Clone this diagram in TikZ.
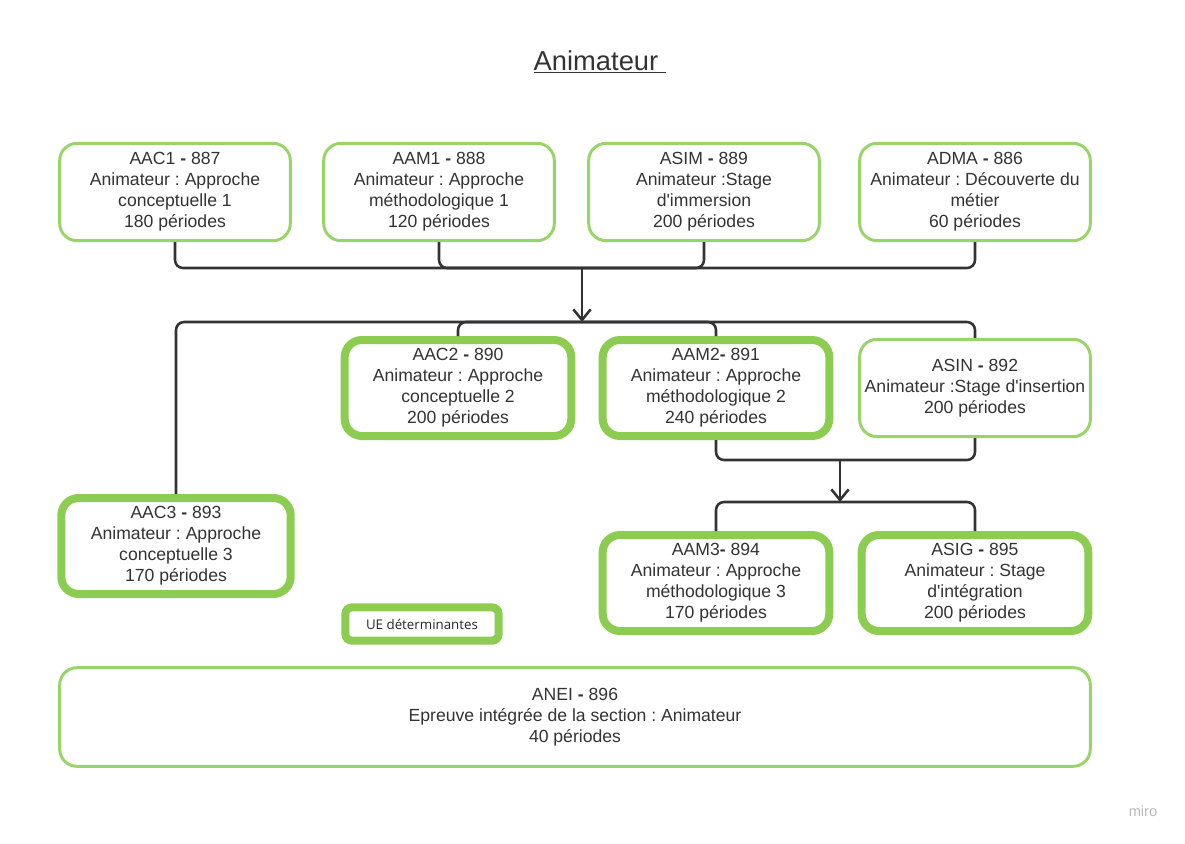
\documentclass[tikz,border=0pt]{standalone}
\usepackage{fontspec}
\setmainfont{Liberation Sans}[Ligatures=TeXOff]
\newfontfamily\uefont{Open Sans}
\usetikzlibrary{arrows.meta}
\definecolor{ueGreen}{RGB}{140,204,80}
\definecolor{ueThin}{RGB}{152,212,104}
\definecolor{ink}{RGB}{51,51,51}
\tikzset{
  unit/.style={draw=ueThin,line width=2.2pt,rounded corners=13pt,fill=white,align=center,
    text=ink,inner sep=1pt,minimum width=173pt,minimum height=73pt,
    font=\fontsize{13.2}{15.75}\selectfont},
  detunit/.style={unit,draw=ueGreen,line width=6pt,minimum width=170pt,minimum height=72pt},
  link/.style={draw=ink,line width=1.9pt,rounded corners=6pt}
}
\def\sep{\textbf{-}}
\frenchspacing

\begin{document}
\begin{tikzpicture}[x=0.75pt,y=-0.75pt,>={Straight Barb[length=8pt,width=13pt]}]
\useasboundingbox[fill=white] (0,0) rectangle (1185,843);
\node[anchor=base west,text=ink,font=\fontsize{20.5}{24}\selectfont] (title) at (529,70) {\underline{Animateur\ }};
\node[unit] (aac1) at (175,192) {AAC1 \sep{} 887\\Animateur : Approche\\conceptuelle 1\\180 périodes};
\node[unit] (aam1) at (439,192) {AAM1 \sep{} 888\\Animateur : Approche\\méthodologique 1\\120 périodes};
\node[unit] (asim) at (704,192) {ASIM \sep{} 889\\Animateur :Stage\\d'immersion\\200 périodes};
\node[unit] (adma) at (975,192) {ADMA \sep{} 886\\Animateur : Découverte du\\métier\\60 périodes};
\node[detunit] (aac2) at (458,388) {AAC2 \sep{} 890\\Animateur : Approche\\conceptuelle 2\\200 périodes};
\node[detunit] (aam2) at (716,388) {AAM2\sep{} 891\\Animateur : Approche\\méthodologique 2\\240 périodes};
\node[unit] (asin) at (975,388) {ASIN \sep{} 892\\Animateur :Stage d'insertion\\200 périodes};
\node[detunit,minimum width=172pt] (aac3) at (176,546) {AAC3 \sep{} 893\\Animateur : Approche\\conceptuelle 3\\170 périodes};
\node[detunit] (aam3) at (716,583) {AAM3\sep{} 894\\Animateur : Approche\\méthodologique 3\\170 périodes};
\node[detunit] (asig) at (975,583) {ASIG \sep{} 895\\Animateur : Stage\\d'intégration\\200 périodes};
\node[detunit,minimum width=115pt,minimum height=25pt,rounded corners=5pt,text=black!85,
  font=\uefont\fontsize{10}{12}\selectfont] (ue) at (422,624) {UE déterminantes};
\node[unit,minimum width=773pt,minimum height=74pt] (anei) at (575,717) {ANEI \sep{} 896\\Epreuve intégrée de la section : Animateur\\40 périodes};
\node[text=gray!55,font=\fontsize{11}{12}\selectfont] (miro) at (1143,811) {miro};

\coordinate (join1) at (582,268);
\coordinate (fork1) at (582,322);
\coordinate (join2) at (840,460);
\coordinate (fork2) at (840,502);
\draw[link] (aac1.south) |- (join1);
\draw[link] (aam1.south) |- (join1);
\draw[link] (asim.south) |- (join1);
\draw[link] (adma.south) |- (join1);
\draw[link,->] (join1) -- (fork1);
\draw[link] (fork1) -| (aac3.north);
\draw[link] (fork1) -| (aac2.north);
\draw[link] (fork1) -| (aam2.north);
\draw[link] (fork1) -| (asin.north);
\draw[link] (aam2.south) |- (join2);
\draw[link] (asin.south) |- (join2);
\draw[link,->] (join2) -- (fork2);
\draw[link] (fork2) -| (aam3.north);
\draw[link] (fork2) -| (asig.north);
\end{tikzpicture}
\end{document}
